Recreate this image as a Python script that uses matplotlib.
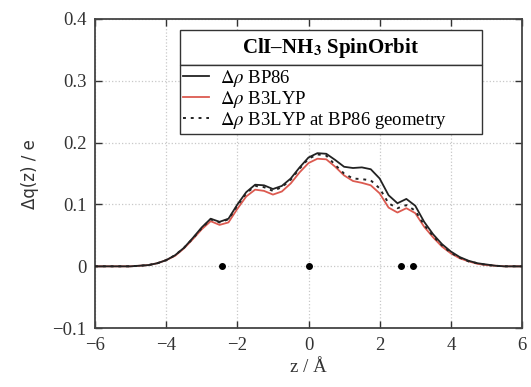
import numpy as np
import matplotlib
matplotlib.use('Agg')
from matplotlib import pyplot as plt
from matplotlib.patches import Rectangle

plt.rcParams['font.family'] = ['Liberation Serif', 'DejaVu Serif']
plt.rcParams['mathtext.fontset'] = 'stix'

# Данные
z = [-6.0, -5.5, -5.0, -4.75, -4.5, -4.25, -4.0, -3.75, -3.5, -3.25, -3.0, -2.75,
     -2.5, -2.25, -2.0, -1.75, -1.5, -1.25, -1.0, -0.75, -0.5, -0.25, 0.0, 0.25,
     0.5, 0.75, 1.0, 1.25, 1.5, 1.75, 2.0, 2.25, 2.5, 2.75, 3.0, 3.25, 3.5, 3.75,
     4.0, 4.25, 4.5, 4.75, 5.0, 5.25, 5.5, 6.0]
bp86 = [0.0, 0.0, 0.0, 0.001, 0.002, 0.005, 0.010, 0.018, 0.030, 0.046, 0.063, 0.077,
        0.072, 0.077, 0.100, 0.120, 0.132, 0.131, 0.125, 0.130, 0.142, 0.160, 0.176, 0.183,
        0.182, 0.172, 0.161, 0.159, 0.160, 0.157, 0.142, 0.115, 0.102, 0.109, 0.098, 0.072,
        0.052, 0.036, 0.024, 0.015, 0.009, 0.005, 0.003, 0.001, 0.0, 0.0]
b3lyp = [0.0, 0.0, 0.0, 0.001, 0.002, 0.005, 0.010, 0.017, 0.029, 0.044, 0.060, 0.073,
         0.067, 0.071, 0.093, 0.113, 0.124, 0.122, 0.116, 0.121, 0.134, 0.152, 0.167, 0.174,
         0.173, 0.161, 0.147, 0.138, 0.135, 0.131, 0.118, 0.095, 0.087, 0.094, 0.086, 0.064,
         0.047, 0.032, 0.021, 0.013, 0.008, 0.004, 0.002, 0.001, 0.0, 0.0]
b3lyp_bp86geom = [0.0, 0.0, 0.0, 0.001, 0.002, 0.005, 0.010, 0.018, 0.030, 0.045, 0.062, 0.076,
                  0.071, 0.076, 0.098, 0.118, 0.130, 0.128, 0.122, 0.128, 0.140, 0.158, 0.174, 0.181,
                  0.179, 0.164, 0.150, 0.142, 0.141, 0.139, 0.126, 0.102, 0.094, 0.099, 0.090, 0.067,
                  0.049, 0.034, 0.022, 0.014, 0.008, 0.005, 0.002, 0.001, 0.0, 0.0]
atoms_z = [-2.44, 0.0, 2.6, 2.93]

fig = plt.figure(figsize=(5.31, 3.87), dpi=100)
ax = fig.add_axes([0.179, 0.152, 0.804, 0.799])

ax.plot(z, bp86, color='#222222', lw=1.3, label=r'$\Delta\rho$ BP86', zorder=3)
ax.plot(z, b3lyp, color='#dc5a50', lw=1.3, label=r'$\Delta\rho$ B3LYP', zorder=2)
ax.plot(z, b3lyp_bp86geom, color='#222222', lw=1.4, ls=(0, (1.5, 2.5)),
        label=r'$\Delta\rho$ B3LYP at BP86 geometry', zorder=4)
ax.plot(atoms_z, [0] * len(atoms_z), 'o', color='black', ms=4, zorder=5)

ax.set_xlim(-6, 6)
ax.set_ylim(-0.1, 0.4)
ax.set_xticks([-6, -4, -2, 0, 2, 4, 6])
ax.set_xticklabels(['\u22126', '\u22124', '\u22122', '0', '2', '4', '6'])
ax.set_yticks([-0.1, 0, 0.1, 0.2, 0.3, 0.4])
ax.set_yticklabels(['\u22120.1', '0', '0.1', '0.2', '0.3', '0.4'])
ax.tick_params(direction='in', length=5, width=1, top=True, right=True,
               labelsize=13.5, colors='#333333', pad=6)
ax.grid(True, ls=':', color='#c8c8c8', lw=0.9)
for s in ax.spines.values():
    s.set_color('#444444')
    s.set_linewidth(1.3)

ax.set_xlabel('z / \u00c5', fontsize=13.5, color='#333333')
ax.set_ylabel('\u0394q(z) / e', fontsize=12, color='#333333', family='DejaVu Sans', labelpad=10)

# Легенда с заголовком в рамке
leg = ax.legend(loc='upper left', bbox_to_anchor=(0.199, 0.673, 0.707, 0.178), mode='expand',
                borderaxespad=0, fancybox=False, edgecolor='#333333', framealpha=1,
                fontsize=13.5, handlelength=1.4, handletextpad=0.6, labelspacing=0.0,
                borderpad=0.15)
leg.get_frame().set_linewidth(1.0)
leg.set_zorder(10)
ax.add_patch(Rectangle((0.199, 0.851), 0.707, 0.113, transform=ax.transAxes,
                       facecolor='white', edgecolor='#333333', lw=1.0, zorder=10))
ax.text(0.5525, 0.907, 'ClI\u2013NH$_\\mathbf{3}$ SpinOrbit',
        transform=ax.transAxes, ha='center', va='center', fontsize=15,
        fontweight='bold', zorder=11)

fig.savefig('out.png', dpi=100)
